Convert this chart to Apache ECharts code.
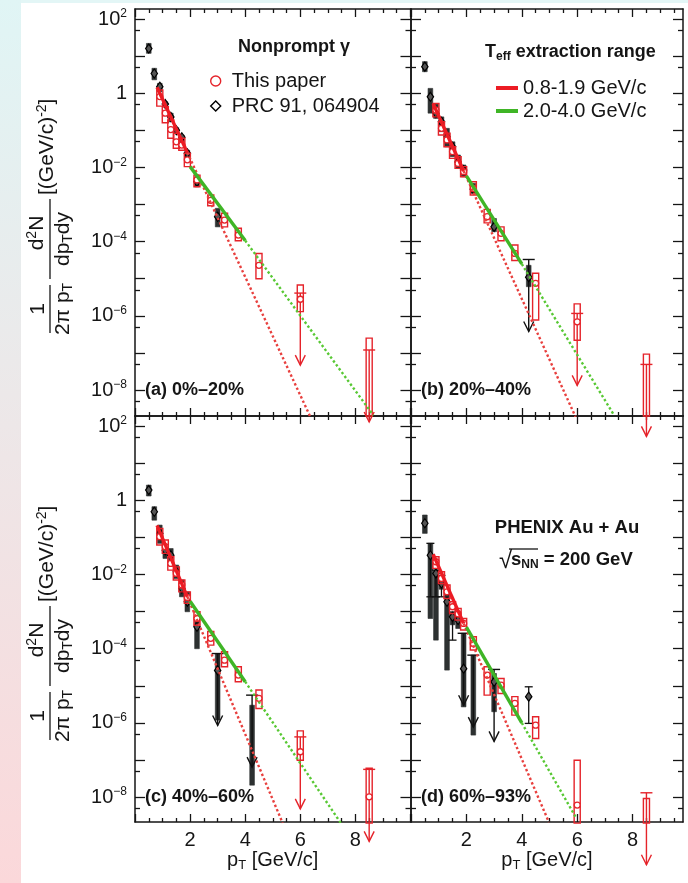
<!DOCTYPE html>
<html>
<head>
<meta charset="utf-8">
<script src="https://cdn.jsdelivr.net/npm/echarts@6.0.0/dist/echarts.min.js"></script>
<style>
html,body{margin:0;padding:0;background:#ffffff;}
#chart{width:688px;height:883px;}
</style>
</head>
<body>
<div id="chart"></div>
<script>
// ---------------- tick and label definitions ----------------
const yMajorTickExp = [-8,-7,-6,-5,-4,-3,-2,-1,0,1,2];
const yLabelExp = [-8,-6,-4,-2,0,2];
const yMinorTickValues = [5e-9,5e-8,5e-7,5e-6,5e-5,5e-4,5e-3,5e-2,5e-1,5,50];
const xMajorTicks = [0,2,4,6,8,10];
const xMinorTicks = [0.5,1,1.5,2.5,3,3.5,4.5,5,5.5,6.5,7,7.5,8.5,9,9.5];
const xLabelValues = [2,4,6,8];
const panelLabels = ['(a) 0%–20%','(b) 20%–40%','(c) 40%–60%','(d) 60%–93%'];

// ---------------- panel (a) 0%-20% ----------------
const a_red_pt  = [0.9,1.1,1.3,1.5,1.7,1.9,2.25,2.75,3.25,3.75,4.5,6.0,8.5];
const a_red_y   = [0.81,0.29,0.105,0.049,0.040,0.016,4.6e-3,1.3e-3,3.8e-4,1.5e-4,2.3e-5,2.8e-6,null];
const a_red_lo  = [0.45,0.16,0.061,0.033,0.029,0.0105,3.0e-3,9.3e-4,2.5e-4,1.06e-4,1.0e-5,1.3e-6,2e-9];
const a_red_hi  = [1.22,0.43,0.19,0.083,0.061,0.024,6.2e-3,1.8e-3,5.8e-4,2.3e-4,4.8e-5,6.8e-6,2.5e-7];
const a_red_cap = [null,null,null,null,null,null,null,null,null,null,null,4.1e-6,1.2e-7];
const a_blk_pt  = [0.5,0.7,0.9,1.1,1.3,1.5,1.7,1.9,2.25,3.0];
const a_blk_y   = [16,3.4,1.5,0.51,0.23,0.10,0.065,0.024,4.1e-3,4.7e-4];
const a_blk_lo  = [11.9,2.3,1.1,0.43,0.17,0.083,0.049,0.0175,3.0e-3,2.5e-4];
const a_blk_hi  = [22,4.7,1.85,0.59,0.29,0.118,0.075,0.029,5.6e-3,7.9e-4];
const a_fitRed_pt = [0.8,1.9,6.35];
const a_fitRed_y  = [1.45,0.025,2e-9];
const a_fitGrn_pt = [2.0,4.0,8.65];
const a_fitGrn_y  = [0.0105,1.07e-4,2.1e-9];

// ---------------- panel (b) 20%-40% ----------------
const b_red_pt  = [0.9,1.1,1.3,1.5,1.7,1.9,2.25,2.75,3.25,3.75,4.5,6.0,8.5];
const b_red_y   = [0.35,0.113,0.055,0.0265,0.0128,7.7e-3,2.7e-3,4.7e-4,1.67e-4,4.8e-5,7.5e-6,6.9e-7,null];
const b_red_lo  = [0.23,0.075,0.036,0.0175,9.4e-3,5.6e-3,1.8e-3,3.2e-4,1.06e-4,3.1e-5,7.7e-7,2.2e-7,2e-9];
const b_red_hi  = [0.53,0.17,0.083,0.036,0.0195,0.0105,4.1e-3,7.4e-4,2.5e-4,8.1e-5,1.4e-5,2.1e-6,9.3e-8];
const b_red_cap = [null,null,null,null,null,null,null,null,null,null,null,1.16e-6,4.9e-8];
const b_blk_pt  = [0.5,0.7,0.9,1.1,1.3,1.5,1.7,1.9,2.25,3.0,4.25];
const b_blk_y   = [5.2,0.8,0.29,0.17,0.067,0.036,0.014,8.5e-3,2.6e-3,2.5e-4,1.1e-5];
const b_blk_lo  = [3.8,0.29,0.21,0.092,0.036,0.0195,9.4e-3,5.6e-3,2.0e-3,1.85e-4,6.1e-6];
const b_blk_hi  = [7.1,1.35,0.51,0.23,0.113,0.049,0.0216,0.0116,3.7e-3,4.2e-4,2.3e-5];
const b_blk_cap = [null,null,null,null,null,null,null,null,null,null,3.3e-5];
const b_fitRed_pt = [0.8,1.9,5.94];
const b_fitRed_y  = [0.52,8.0e-3,1.9e-9];
const b_fitGrn_pt = [2.0,4.0,7.33];
const b_fitGrn_y  = [5.9e-3,2.5e-5,2.1e-9];

// ---------------- panel (c) 40%-60% ----------------
const c_red_pt  = [0.9,1.1,1.3,1.5,1.7,1.9,2.25,2.75,3.25,3.75,4.5,6.0,8.5];
const c_red_y   = [0.104,0.056,0.0199,0.0107,5.2e-3,2.4e-3,6.5e-4,1.9e-4,4.9e-5,1.94e-5,4.6e-6,1.67e-7,1.02e-8];
const c_red_lo  = [0.062,0.037,0.0131,7.1e-3,3.4e-3,1.66e-3,4.3e-4,1.25e-4,3.25e-5,1.28e-5,2.45e-6,9.9e-8,2e-9];
const c_red_hi  = [0.174,0.085,0.030,0.016,7.1e-3,3.4e-3,9.9e-4,2.9e-4,8.3e-5,3.25e-5,7.7e-6,6.1e-7,6e-8];
const c_red_cap = [null,null,null,null,null,null,null,null,null,null,null,4.2e-7,5.6e-8];
const c_blk_pt  = [0.5,0.7,0.9,1.1,1.3,1.5,1.7,1.9,2.25,3.0,4.25];
const c_blk_y   = [1.88,0.49,0.128,0.045,0.033,0.0119,4.2e-3,1.84e-3,3.9e-4,2.6e-5,null];
const c_blk_lo  = [1.30,0.29,0.069,0.027,0.0199,7.8e-3,2.5e-3,9.9e-4,1.0e-4,1.19e-6,2.1e-8];
const c_blk_hi  = [2.56,0.67,0.214,0.062,0.05,0.0179,7.1e-3,3.4e-3,7.2e-4,7.4e-5,3.0e-6];
const c_blk_cap = [null,null,null,null,null,null,null,null,null,7.4e-5,5.6e-6];
const c_fitRed_pt = [0.8,1.9,5.36];
const c_fitRed_y  = [0.21,2.5e-3,2e-9];
const c_fitGrn_pt = [2.0,4.0,7.47];
const c_fitGrn_y  = [1.9e-3,1.29e-5,2e-9];

// ---------------- panel (d) 60%-93% ----------------
const d_red_pt  = [0.9,1.1,1.3,1.5,1.7,1.9,2.25,2.75,3.25,3.75,4.5,6.0,8.5];
const d_red_y   = [0.022,7.8e-3,3.4e-3,1.35e-3,8.6e-4,4.8e-4,1.39e-4,1.94e-5,1.04e-5,3.35e-6,8.7e-7,6.1e-9,null];
const d_red_lo  = [0.0146,5.7e-3,2.26e-3,8.9e-4,5.9e-4,3.2e-4,9.2e-5,5.6e-6,6.2e-6,1.62e-6,3.8e-7,2e-9,2e-9];
const d_red_hi  = [0.030,0.0118,5.2e-3,1.84e-3,1.22e-3,6.5e-4,2.1e-4,3.25e-5,1.58e-5,5.1e-6,1.46e-6,9.9e-8,9.2e-9];
const d_red_cap = [null,null,null,null,null,null,null,null,null,null,null,null,1.31e-8];
const d_blk_pt  = [0.5,0.7,0.9,1.1,1.3,1.5,1.7,1.9,2.25,3.0,4.25];
const d_blk_y   = [0.24,0.033,0.0107,5.7e-3,1.84e-3,7.2e-4,5.9e-4,2.9e-5,null,1.28e-5,5.1e-6];
const d_blk_lo  = [0.128,6.5e-4,1.7e-4,4.0e-3,2.65e-5,4.4e-4,3.5e-4,2.7e-6,4.7e-7,2.0e-6,null];
const d_blk_hi  = [0.40,0.069,0.0131,8.0e-3,3.8e-3,1.0e-3,8.0e-4,2.6e-4,6.7e-5,2.15e-5,null];
const d_blk_cap = [null,null,null,null,null,null,null,2.6e-4,6.7e-5,2.76e-5,null];
const d_blk_eLo = [null,2.5e-3,2.5e-3,2.5e-3,null,1.7e-4,null,null,null,null,9.7e-7];
const d_blk_eHi = [null,0.069,0.0131,9.4e-3,null,8.9e-4,null,null,null,null,9.4e-6];
const d_fitRed_pt = [0.8,1.9,4.98];
const d_fitRed_y  = [0.035,4.8e-4,2.1e-9];
const d_fitGrn_pt = [2.0,4.0,5.97];
const d_fitGrn_y  = [3.8e-4,1.0e-6,2.7e-9];

// ---------------- styling / layout ----------------
const FONT = "'Liberation Sans', Arial, Helvetica, sans-serif";
const INK = '#151515';
const RED = '#e5232a';
const RED_LINE = '#ec1c24';
const RED_DOT = '#e8403e';
const GRN_LINE = '#3fb526';
const GRN_DOT = '#58c834';
const BOX_DARK = '#2d3131';

const panels = [
  {left:135, top:9,   width:275.5, height:407, xmax:10,   ymin:-8.70, ymax:2.27, labY:true,  labX:false},
  {left:411, top:9,   width:272,   height:407, xmax:9.82, ymin:-8.70, ymax:2.27, labY:false, labX:false},
  {left:135, top:416, width:275.5, height:406, xmax:10,   ymin:-8.67, ymax:2.27, labY:true,  labX:true},
  {left:411, top:416, width:272,   height:406, xmax:9.82, ymin:-8.67, ymax:2.27, labY:false, labX:true}
];

const lg = v => (v == null ? NaN : Math.log10(v));
const yMinorTickLog = yMinorTickValues.map(v => Math.log10(v));

function pointData(pt, y, lo, hi, cap, eLo, eHi) {
  return pt.map((p, i) => [p, lg(y[i]), lg(lo[i]), lg(hi[i]),
    lg(cap ? cap[i] : null), lg(eLo ? eLo[i] : null), lg(eHi ? eHi[i] : null)]);
}

const redSets = [
  {g:0, data: pointData(a_red_pt, a_red_y, a_red_lo, a_red_hi, a_red_cap)},
  {g:1, data: pointData(b_red_pt, b_red_y, b_red_lo, b_red_hi, b_red_cap)},
  {g:2, data: pointData(c_red_pt, c_red_y, c_red_lo, c_red_hi, c_red_cap)},
  {g:3, data: pointData(d_red_pt, d_red_y, d_red_lo, d_red_hi, d_red_cap)}
];
const blkSets = [
  {g:0, data: pointData(a_blk_pt, a_blk_y, a_blk_lo, a_blk_hi, null)},
  {g:1, data: pointData(b_blk_pt, b_blk_y, b_blk_lo, b_blk_hi, b_blk_cap)},
  {g:2, data: pointData(c_blk_pt, c_blk_y, c_blk_lo, c_blk_hi, c_blk_cap)},
  {g:3, data: pointData(d_blk_pt, d_blk_y, d_blk_lo, d_blk_hi, d_blk_cap, d_blk_eLo, d_blk_eHi)}
];
const fits = [
  {g:0, rp:a_fitRed_pt, ry:a_fitRed_y, gp:a_fitGrn_pt, gy:a_fitGrn_y},
  {g:1, rp:b_fitRed_pt, ry:b_fitRed_y, gp:b_fitGrn_pt, gy:b_fitGrn_y},
  {g:2, rp:c_fitRed_pt, ry:c_fitRed_y, gp:c_fitGrn_pt, gy:c_fitGrn_y},
  {g:3, rp:d_fitRed_pt, ry:d_fitRed_y, gp:d_fitGrn_pt, gy:d_fitGrn_y}
];

function ok(v) { return v != null && !isNaN(v); }

function makeRender(isRed) {
  return function (params, api) {
    const pt = api.value(0), yv = api.value(1), lo = api.value(2), hi = api.value(3);
    const cap = api.value(4), el = api.value(5), eh = api.value(6);
    const col = isRed ? RED : '#111';
    const hw = isRed ? 0.11 : 0.085;
    const ch = [];
    if (ok(lo) && ok(hi)) {
      const a = api.coord([pt - hw, hi]), b = api.coord([pt + hw, lo]);
      ch.push({type:'rect', shape:{x:a[0], y:a[1], width:b[0]-a[0], height:b[1]-a[1]},
        style: isRed ? {fill:'none', stroke:RED, lineWidth:1.4} : {fill:BOX_DARK, stroke:BOX_DARK, lineWidth:0.6}});
    }
    if (ok(el) && ok(eh)) {
      const a = api.coord([pt, eh]), b = api.coord([pt, el]);
      ch.push({type:'line', shape:{x1:a[0], y1:a[1], x2:b[0], y2:b[1]}, style:{stroke:col, lineWidth:1.3}});
      ch.push({type:'line', shape:{x1:a[0]-4, y1:a[1], x2:a[0]+4, y2:a[1]}, style:{stroke:col, lineWidth:1.3}});
      ch.push({type:'line', shape:{x1:b[0]-4, y1:b[1], x2:b[0]+4, y2:b[1]}, style:{stroke:col, lineWidth:1.3}});
    }
    if (ok(cap)) {
      const c = api.coord([pt, cap]);
      const tip = c[1] + 72;
      ch.push({type:'line', shape:{x1:c[0]-6, y1:c[1], x2:c[0]+6, y2:c[1]}, style:{stroke:col, lineWidth:1.4}});
      ch.push({type:'line', shape:{x1:c[0], y1:c[1], x2:c[0], y2:tip}, style:{stroke:col, lineWidth:1.4}});
      ch.push({type:'polyline', shape:{points:[[c[0]-5, tip-10],[c[0], tip],[c[0]+5, tip-10]]},
        style:{stroke:col, lineWidth:1.4, fill:'none'}});
    }
    if (ok(yv)) {
      const p = api.coord([pt, yv]);
      if (isRed) {
        ch.push({type:'circle', shape:{cx:p[0], cy:p[1], r:3}, style:{fill:'#fff', stroke:RED, lineWidth:1.3}});
      } else {
        ch.push({type:'polygon', shape:{points:[[p[0], p[1]-4.5],[p[0]+3.2, p[1]],[p[0], p[1]+4.5],[p[0]-3.2, p[1]]]},
          style:{fill:'#555', stroke:'#000', lineWidth:1.2}});
      }
    }
    return {type:'group', children: ch};
  };
}

// ---------------- axes ----------------
const grids = [], xAxes = [], yAxes = [];
const lineSt = {color: INK, width: 1.5};
const tickSt = {color: INK, width: 1.3};
panels.forEach((p, i) => {
  grids.push({left:p.left, top:p.top, width:p.width, height:p.height, containLabel:false});
  const xc = {gridIndex:i, type:'value', min:0, max:p.xmax, splitLine:{show:false}, axisLabel:{show:false}};
  xAxes.push(Object.assign({}, xc, {
    position:'bottom',
    axisLine:{show:true, onZero:false, lineStyle:lineSt},
    axisTick:{show:true, inside:true, length:8, customValues:xMajorTicks, lineStyle:tickSt},
    axisLabel: p.labX ? {show:true, customValues:xLabelValues, margin:8, fontSize:20, fontFamily:FONT, color:INK} : {show:false},
    name: p.labX ? 'p{sub|T} [GeV/c]' : '',
    nameLocation:'middle', nameGap:23,
    nameTextStyle:{fontSize:20, fontFamily:FONT, color:INK,
      rich:{sub:{fontSize:13, fontFamily:FONT, color:INK, padding:[10,0,0,0]}}}
  }));
  xAxes.push(Object.assign({}, xc, {position:'bottom', axisLine:{show:false, onZero:false},
    axisTick:{show:true, inside:true, length:4, customValues:xMinorTicks, lineStyle:tickSt}}));
  xAxes.push(Object.assign({}, xc, {position:'top', axisLine:{show:true, onZero:false, lineStyle:lineSt},
    axisTick:{show:true, inside:true, length:8, customValues:xMajorTicks, lineStyle:tickSt}}));
  xAxes.push(Object.assign({}, xc, {position:'top', axisLine:{show:false, onZero:false},
    axisTick:{show:true, inside:true, length:4, customValues:xMinorTicks, lineStyle:tickSt}}));

  const yc = {gridIndex:i, type:'value', min:p.ymin, max:p.ymax, splitLine:{show:false}, axisLabel:{show:false}};
  yAxes.push(Object.assign({}, yc, {
    position:'left',
    axisLine:{show:true, onZero:false, lineStyle:lineSt},
    axisTick:{show:true, inside:true, length:10, customValues:yMajorTickExp, lineStyle:tickSt},
    axisLabel: p.labY ? {show:true, customValues:yLabelExp, margin:8, fontSize:20, fontFamily:FONT, color:INK,
      formatter: v => (v === 0 ? '1' : '10{sup|' + (v < 0 ? '−' : '') + Math.abs(v) + '}'),
      rich:{sup:{fontSize:12, fontFamily:FONT, color:INK, padding:[0,0,10,0]}}} : {show:false}
  }));
  yAxes.push(Object.assign({}, yc, {position:'left', axisLine:{show:false, onZero:false},
    axisTick:{show:true, inside:true, length:5, customValues:yMinorTickLog, lineStyle:tickSt}}));
  yAxes.push(Object.assign({}, yc, {position:'right', axisLine:{show:true, onZero:false, lineStyle:lineSt},
    axisTick:{show:true, inside:true, length:10, customValues:yMajorTickExp, lineStyle:tickSt}}));
  yAxes.push(Object.assign({}, yc, {position:'right', axisLine:{show:false, onZero:false},
    axisTick:{show:true, inside:true, length:5, customValues:yMinorTickLog, lineStyle:tickSt}}));
});

// ---------------- series ----------------
const series = [];
blkSets.forEach(s => series.push({type:'custom', name:'PRC 91, 064904', xAxisIndex:4*s.g, yAxisIndex:4*s.g,
  data:s.data, renderItem:makeRender(false), encode:{x:0, y:1}, z:2, silent:true, clip:false, itemStyle:{color:'#111'}}));
redSets.forEach(s => series.push({type:'custom', name:'This paper', xAxisIndex:4*s.g, yAxisIndex:4*s.g,
  data:s.data, renderItem:makeRender(true), encode:{x:0, y:1}, z:3, silent:true, clip:false, itemStyle:{color:RED}}));
fits.forEach(f => {
  const ax = {xAxisIndex:4*f.g, yAxisIndex:4*f.g, symbol:'none', silent:true, clip:true};
  series.push(Object.assign({type:'line', name:'red extrapolation', data:[[f.rp[1], lg(f.ry[1])],[f.rp[2], lg(f.ry[2])]],
    lineStyle:{color:RED_DOT, width:2.4, type:'dotted'}, itemStyle:{color:RED_DOT}, z:4}, ax));
  series.push(Object.assign({type:'line', name:'green extrapolation', data:[[f.gp[1], lg(f.gy[1])],[f.gp[2], lg(f.gy[2])]],
    lineStyle:{color:GRN_DOT, width:2.4, type:'dotted'}, itemStyle:{color:GRN_DOT}, z:4}, ax));
  series.push(Object.assign({type:'line', name:'0.8-1.9 GeV/c', data:[[f.rp[0], lg(f.ry[0])],[f.rp[1], lg(f.ry[1])]],
    lineStyle:{color:RED_LINE, width:3.4}, itemStyle:{color:RED_LINE}, z:5}, ax));
  series.push(Object.assign({type:'line', name:'2.0-4.0 GeV/c', data:[[f.gp[0], lg(f.gy[0])],[f.gp[1], lg(f.gy[1])]],
    lineStyle:{color:GRN_LINE, width:3.4}, itemStyle:{color:GRN_LINE}, z:5}, ax));
});

// ---------------- texts ----------------
function txt(x, y, text, opt) {
  return {type:'text', x:x, y:y, silent:true, z:20, style:Object.assign({text:text, fill:INK, fontFamily:FONT,
    fontSize:18, fontWeight:'bold', textAlign:'left', textVerticalAlign:'middle'}, opt || {})};
}
const subRich = (fs, w) => ({fontSize:fs, fontFamily:FONT, fontWeight:w || 'normal', fill:INK, padding:[10,0,0,0]});
const supRich = (fs, w) => ({fontSize:fs, fontFamily:FONT, fontWeight:w || 'normal', fill:INK, padding:[0,0,10,0]});

function yTitle(x0, y0) {
  const st = {fill:INK, fontFamily:FONT, fontSize:21, fontWeight:'normal'};
  const rich = {sub:subRich(14), sup:supRich(14)};
  return {type:'group', x:x0, y:y0, rotation:Math.PI/2, silent:true, z:20, children:[
    {type:'text', x:24, y:-1, style:Object.assign({}, st, {text:'1', textAlign:'center', textVerticalAlign:'bottom'})},
    {type:'line', shape:{x1:0, y1:0, x2:48, y2:0}, style:{stroke:INK, lineWidth:1.3}},
    {type:'text', x:24, y:1, style:Object.assign({}, st, {text:'2π p{sub|T}', rich:rich, textAlign:'center', textVerticalAlign:'top'})},
    {type:'text', x:100, y:-1, style:Object.assign({}, st, {text:'d{sup|2}N', rich:rich, textAlign:'center', textVerticalAlign:'bottom'})},
    {type:'line', shape:{x1:54, y1:0, x2:134, y2:0}, style:{stroke:INK, lineWidth:1.3}},
    {type:'text', x:94, y:1, style:Object.assign({}, st, {text:'dp{sub|T}dy', rich:rich, textAlign:'center', textVerticalAlign:'top'})},
    {type:'text', x:138, y:-3, style:Object.assign({}, st, {text:'[(GeV/c){sup|-2}]', rich:rich, textAlign:'left', textVerticalAlign:'middle'})}
  ]};
}

const graphics = [
  {type:'rect', silent:true, z:-10, shape:{x:0, y:0, width:688, height:3}, style:{fill:'#e3f6f6'}},
  {type:'rect', silent:true, z:-10, shape:{x:0, y:0, width:21, height:883},
    style:{fill:{type:'linear', x:0, y:0, x2:0, y2:1, colorStops:[{offset:0, color:'#e0f5f5'},{offset:1, color:'#fbd8da'}]}}},
  yTitle(50, 333),
  yTitle(50, 740),
  txt(294, 47, 'Nonprompt γ', {textAlign:'center'}),
  txt(485, 52, 'T{sub|eff} extraction range', {rich:{sub:subRich(12, 'bold')}}),
  txt(145, 390, panelLabels[0]),
  txt(421, 390, panelLabels[1]),
  txt(145, 797, panelLabels[2]),
  txt(421, 797, panelLabels[3]),
  txt(567, 528, 'PHENIX Au + Au', {textAlign:'center', fontSize:18.5}),
  txt(499, 561, '√', {fontWeight:'normal', fontSize:24}),
  txt(511, 560, 's{sub|NN} = 200 GeV', {fontSize:18.5, rich:{sub:subRich(12, 'bold')}}),
  {type:'line', silent:true, z:20, shape:{x1:509, y1:549, x2:538, y2:549}, style:{stroke:INK, lineWidth:1.3}}
];

const option = {
  animation:false,
  backgroundColor:'#ffffff',
  grid:grids,
  xAxis:xAxes,
  yAxis:yAxes,
  legend:[
    {left:205, top:66, orient:'vertical', itemGap:5, itemWidth:10, itemHeight:10, selectedMode:false,
     textStyle:{fontSize:20, fontFamily:FONT, color:INK, padding:[0,0,0,6]},
     data:[
       {name:'This paper', icon:'circle', itemStyle:{color:'#ffffff', borderColor:RED, borderWidth:1.4}},
       {name:'PRC 91, 064904', icon:'diamond', itemStyle:{color:'#ffffff', borderColor:'#000', borderWidth:1.4}}
     ]},
    {left:491, top:73, orient:'vertical', itemGap:3, itemWidth:22, itemHeight:4, selectedMode:false,
     textStyle:{fontSize:20, fontFamily:FONT, color:INK},
     data:[
       {name:'0.8-1.9 GeV/c', icon:'rect', itemStyle:{color:RED_LINE}},
       {name:'2.0-4.0 GeV/c', icon:'rect', itemStyle:{color:GRN_LINE}}
     ]}
  ],
  graphic:graphics,
  series:series
};

const chart = echarts.init(document.getElementById('chart'), null, {renderer:'canvas', width:688, height:883});
chart.setOption(option);
</script>
</body>
</html>
